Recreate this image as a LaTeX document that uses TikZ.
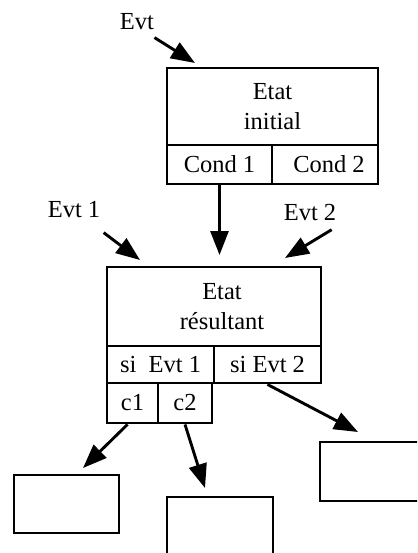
\documentclass[tikz,border=0pt]{standalone}
\usepackage{fontspec}
\setmainfont{Liberation Serif}
\usetikzlibrary{arrows.meta,calc}
\tikzstyle{cell}=[rectangle,draw=black,line width=2.9pt,inner sep=0pt,align=center]
\tikzstyle{lbl}=[inner sep=2pt]

\begin{document}
\begin{tikzpicture}[x=1pt,y=-1pt,>={Triangle[length=24pt,width=18pt]},line width=2.9pt,font={\fontsize{24.5}{30}\selectfont}]
    \useasboundingbox (0,0) rectangle (417,553);
    \clip (0,0) rectangle (417,553);
    % etat initial
    \node [cell,minimum width=211pt,minimum height=77pt] (init)  at (272.5,106.5) {Etat\\initial};
    \node [cell,minimum width=105pt,minimum height=39pt] (cond1) at (219.5,164.5) {Cond 1};
    \node [cell,minimum width=106pt,minimum height=39pt] (cond2) at (325,164.5)   {\hspace*{8pt}Cond 2};
    \node [lbl] (evt) at (137,22) {Evt};
    \coordinate (evttip) at (195,63);

    % etat resultant
    \node [cell,minimum width=214pt,minimum height=79pt] (res) at (214,306.5) {\hspace*{16pt}Etat\\\hspace*{16pt}r\'esultant};
    \node [cell,minimum width=107pt,minimum height=37pt] (si1) at (160.5,364.5) {si~~Evt 1};
    \node [cell,minimum width=107pt,minimum height=37pt] (si2) at (267.5,364.5) {si Evt 2};
    \node [cell,minimum width=51pt,minimum height=40pt]  (c1)  at (132.5,403)   {c1};
    \node [cell,minimum width=54pt,minimum height=40pt]  (c2)  at (185,403)     {c2};
    \node [lbl] (evta) at (74,210)  {Evt 1};
    \node [lbl] (evtb) at (310,213) {Evt 2};
    \coordinate (restip) at (219.5,255);
    \coordinate (atip) at (140,260);
    \coordinate (btip) at (285,258);

    % etats suivants
    \node [cell,minimum width=105pt,minimum height=58pt] (lbox) at (66.5,504) {};
    \node [cell,minimum width=106pt,minimum height=90pt] (mbox) at (220,542)  {};
    \node [cell,minimum width=110pt,minimum height=59pt] (rbox) at (375,471.5) {};
    \coordinate (ltip) at (83,468);
    \coordinate (mtip) at (205,488);
    \coordinate (rtip) at (358,432);

    \draw [->] ($(evt.south east)+(-3,4)$) -- (evttip);
    \draw [->] (cond1.south) -- (restip);
    \draw [->] ($(evta.south east)+(0,11)$) -- (atip);
    \draw [->] ($(evtb.south east)+(-8,5)$) -- (btip);
    \draw [->] ($(c1.south)+(-5,0)$) -- (ltip);
    \draw [->] (c2.south) -- (mtip);
    \draw [->] (si2.south) -- (rtip);
\end{tikzpicture}
\end{document}
